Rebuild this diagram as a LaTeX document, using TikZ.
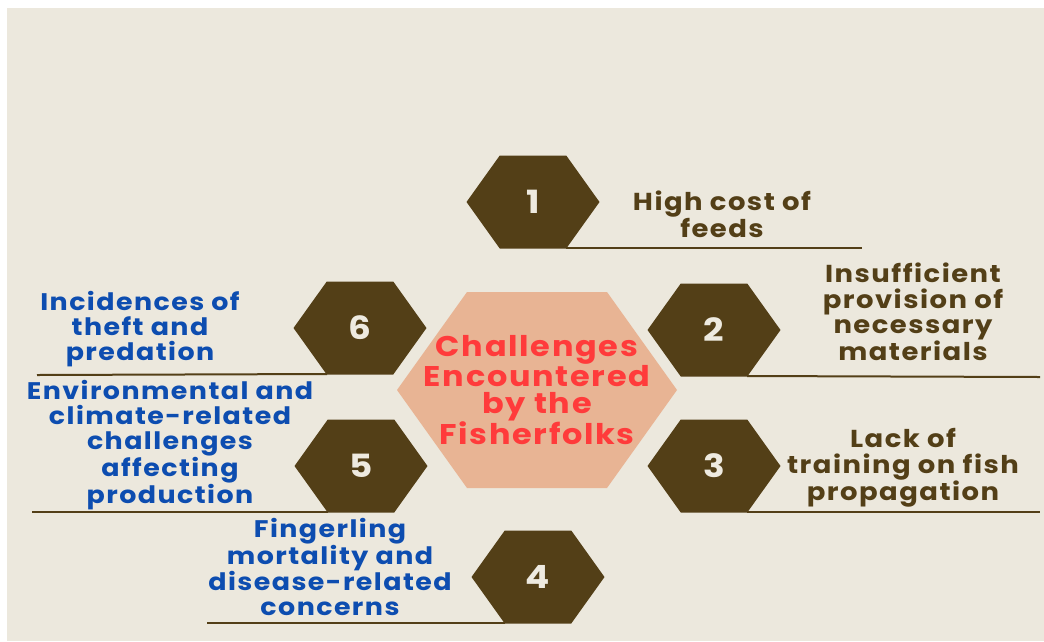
\documentclass[tikz,border=0pt]{standalone}
\usepackage{fontspec}
\setmainfont{Poppins}[FakeStretch=1.12,LetterSpace=6]
\usetikzlibrary{calc,positioning}
\definecolor{pagebg}{HTML}{ECE8DD}
\definecolor{hexbrown}{HTML}{533F17}
\definecolor{hubfill}{HTML}{E8B494}
\definecolor{hubred}{HTML}{FF3B3B}
\definecolor{issueblue}{HTML}{0D4DB0}
\definecolor{numwhite}{HTML}{EEEAE0}
\tikzset{
  hexbox/.style={fill=hexbrown},
  hubbox/.style={fill=hubfill},
  numlbl/.style={text=numwhite,font=\fontsize{32}{32}\selectfont\bfseries,inner sep=0pt},
  hubtxt/.style={text=hubred,align=center,inner sep=0pt,font=\fontsize{28.5}{27}\selectfont\bfseries},
  rtxt/.style={text=hexbrown,align=center,inner sep=0pt,font=\fontsize{24.5}{25.5}\selectfont\bfseries},
  ltxt/.style={text=issueblue,align=center,inner sep=0pt,font=\fontsize{24}{25}\selectfont\bfseries},
  uline/.style={draw=hexbrown,line width=2pt},
  every node/.style={font=\small}
}
% hexagon with flat top: centre, half width, half height, style
\newcommand\hexshape[4]{%
  \path[#4] ($(#1)+(-#2,0)$) -- ($(#1)+(-#2/2,-#3)$) -- ($(#1)+(#2/2,-#3)$)
    -- ($(#1)+(#2,0)$) -- ($(#1)+(#2/2,#3)$) -- ($(#1)+(-#2/2,#3)$) -- cycle;}
\begin{document}
\begin{tikzpicture}[x=1pt,y=-1pt]
\fill[white] (0,0) rectangle (1044,641);
\fill[pagebg] (7,8) rectangle (1044,641);
\useasboundingbox (0,0) rectangle (1044,641);

% centres of the hexagons
\coordinate (hub) at (537,390);
\coordinate (c1) at (533,202);
\coordinate (c2) at (714,330);
\coordinate (c3) at (714,466);
\coordinate (c4) at (538,577);
\coordinate (c5) at (361,466);
\coordinate (c6) at (360,328);

% underlines (drawn first, hexagons sit on top)
\coordinate (e1) at (862,248);
\coordinate (e2) at (1040,377);
\coordinate (e3) at (1040,512);
\coordinate (e4) at (207,623);
\coordinate (e5) at (32,512);
\coordinate (e6) at (37,375);
\draw[uline] ($(c1)+(33,46)$) -- (e1);
\draw[uline] ($(c2)+(33,46)$) -- (e2);
\draw[uline] ($(c3)+(33,46)$) -- (e3);
\draw[uline] ($(c4)+(-33,46)$) -- (e4);
\draw[uline] ($(c5)+(-33,46)$) -- (e5);
\draw[uline] ($(c6)+(-33,46)$) -- (e6);

\hexshape{hub}{140}{98}{hubbox}
\foreach \i in {1,...,6} {
  \hexshape{c\i}{66.5}{46.5}{hexbox}
  \node[numlbl] (n\i) at (c\i) {\i};
}

\node[hubtxt] (title) at (hub) {Challenges\\Encountered\\by the\\Fisherfolks};

\node[rtxt] (t1) at (722,214) {High cost of\\feeds};
\node[rtxt] (t2) at (913,312) {Insufficient\\provision of\\necessary\\materials};
\node[rtxt] (t3) at (903,468) {Lack of\\training on fish\\propagation};
\node[ltxt] (t4) at (330,567) {Fingerling\\mortality and\\disease-related\\concerns};
\node[ltxt] (t5) at (170,445) {Environmental and\\climate-related\\challenges\\affecting\\production};
\node[ltxt] (t6) at (140,329) {Incidences of\\theft and\\predation};
\end{tikzpicture}
\end{document}
